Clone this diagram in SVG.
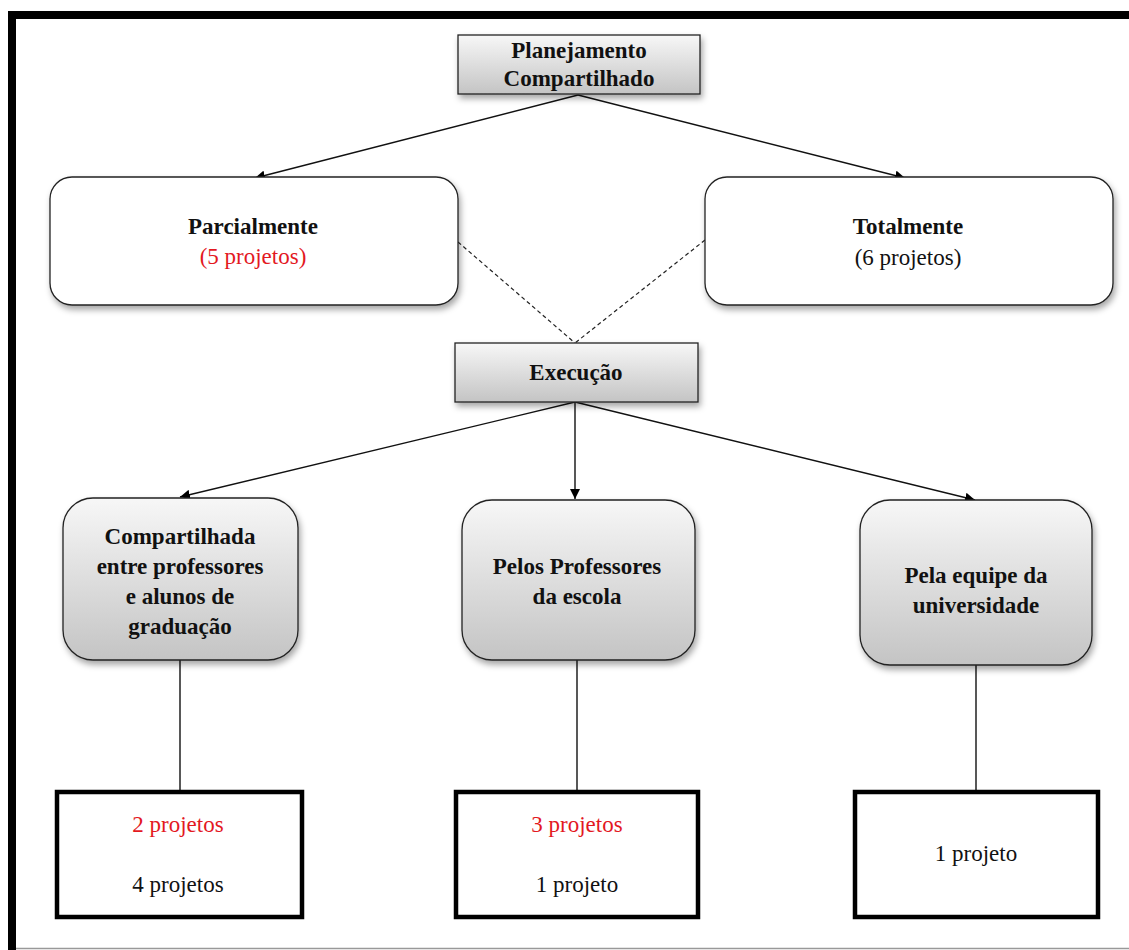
<svg xmlns="http://www.w3.org/2000/svg" width="1129" height="950" viewBox="0 0 1129 950">
<style>
.t{font-family:"Liberation Serif","Times New Roman",serif;font-size:23px;text-anchor:middle;fill:#111}
.b{font-weight:bold}
.red{fill:#e3191f}
.grad{fill:url(#g);stroke:#222;stroke-width:1.3}
.white{fill:#fff;stroke:#222;stroke-width:1.3}
.thick{fill:#fff;stroke:#000;stroke-width:4.5}
.con{stroke:#111;stroke-width:1.4;fill:none}
.dash{stroke:#222;stroke-width:1.2;stroke-dasharray:4 3;fill:none}
</style>
<defs>
<linearGradient id="g" x1="0" y1="0" x2="0" y2="1">
<stop offset="0" stop-color="#f7f7f7"/>
<stop offset="1" stop-color="#c4c4c4"/>
</linearGradient>
<filter id="sh" x="-10%" y="-10%" width="125%" height="130%">
<feDropShadow dx="2" dy="4" stdDeviation="3" flood-color="#000" flood-opacity="0.35"/>
</filter>
<marker id="ah" viewBox="0 0 10 10" refX="10" refY="5" markerWidth="10" markerHeight="10" markerUnits="userSpaceOnUse" orient="auto">
<path d="M0,0 L10,5 L0,10 z" fill="#000"/>
</marker>
</defs>
<rect x="0" y="0" width="1129" height="950" fill="#fff"/>
<!-- frame -->
<rect x="8" y="11" width="1121" height="8" fill="#000"/>
<rect x="8" y="11" width="8" height="939" fill="#000"/>
<line x1="16" y1="948.5" x2="1129" y2="948.5" stroke="#999" stroke-width="1.5"/>

<g id="connectors">
<line class="con" x1="578" y1="95" x2="255" y2="178" marker-end="url(#ah)"/>
<line class="con" x1="578" y1="95" x2="905" y2="178" marker-end="url(#ah)"/>
<line class="dash" x1="458" y1="242" x2="575" y2="343"/>
<line class="dash" x1="705" y1="240" x2="575" y2="343"/>
<line class="con" x1="575" y1="402" x2="180" y2="497" marker-end="url(#ah)"/>
<line class="con" x1="575" y1="402" x2="575" y2="499" marker-end="url(#ah)"/>
<line class="con" x1="575" y1="402" x2="975" y2="500" marker-end="url(#ah)"/>
<line class="con" x1="180" y1="660" x2="180" y2="790"/>
<line class="con" x1="577" y1="660" x2="577" y2="790"/>
<line class="con" x1="976" y1="665" x2="976" y2="790"/>
</g>

<g id="planejamento">
<rect class="grad" x="458" y="35" width="242" height="59" filter="url(#sh)"/>
<text class="t b" x="579" y="58">Planejamento</text>
<text class="t b" x="579" y="86">Compartilhado</text>
</g>

<g id="parcialmente">
<rect class="white" x="50" y="177" width="408" height="128" rx="22" filter="url(#sh)"/>
<text class="t b" x="253" y="234">Parcialmente</text>
<text class="t red" x="253" y="264">(5 projetos)</text>
</g>

<g id="totalmente">
<rect class="white" x="705" y="177" width="408" height="128" rx="22" filter="url(#sh)"/>
<text class="t b" x="908" y="234">Totalmente</text>
<text class="t" x="908" y="265">(6 projetos)</text>
</g>

<g id="execucao">
<rect class="grad" x="455" y="343" width="243" height="59" filter="url(#sh)"/>
<text class="t b" x="576" y="380">Execução</text>
</g>

<g id="compartilhada">
<rect class="grad" x="63" y="498" width="235" height="162" rx="30" filter="url(#sh)"/>
<text class="t b" x="180" y="544">Compartilhada</text>
<text class="t b" x="180" y="574">entre professores</text>
<text class="t b" x="180" y="604">e alunos de</text>
<text class="t b" x="180" y="634">graduação</text>
</g>

<g id="professores">
<rect class="grad" x="462" y="500" width="233" height="160" rx="30" filter="url(#sh)"/>
<text class="t b" x="577" y="574">Pelos Professores</text>
<text class="t b" x="577" y="604">da escola</text>
</g>

<g id="universidade">
<rect class="grad" x="860" y="500" width="232" height="165" rx="30" filter="url(#sh)"/>
<text class="t b" x="976" y="583">Pela equipe da</text>
<text class="t b" x="976" y="613">universidade</text>
</g>

<g id="res1">
<rect class="thick" x="57" y="792" width="245" height="125"/>
<text class="t red" x="178" y="832">2 projetos</text>
<text class="t" x="178" y="892">4 projetos</text>
</g>

<g id="res2">
<rect class="thick" x="456" y="792" width="242" height="125"/>
<text class="t red" x="577" y="832">3 projetos</text>
<text class="t" x="577" y="892">1 projeto</text>
</g>

<g id="res3">
<rect class="thick" x="855" y="792" width="243" height="125"/>
<text class="t" x="976" y="861">1 projeto</text>
</g>
</svg>
